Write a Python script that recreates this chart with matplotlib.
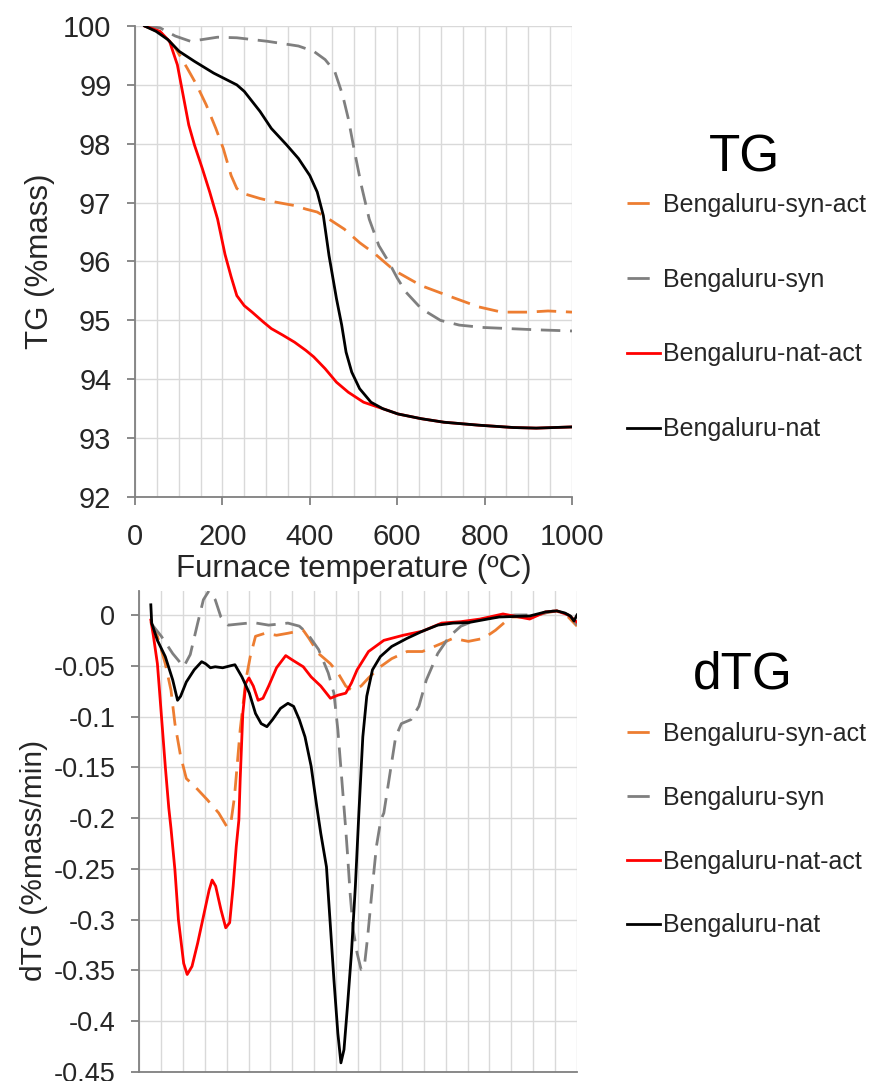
import matplotlib
matplotlib.use("Agg")
import matplotlib.pyplot as plt
from matplotlib.lines import Line2D
from matplotlib.ticker import MultipleLocator

plt.rcParams['font.family'] = ['Liberation Sans', 'DejaVu Sans']

# ---------------- data (TG, % mass) ----------------
nat_T = [22, 48, 75, 101, 136, 180, 233, 250, 286, 312, 347, 374, 400, 417, 431, 444, 461, 473, 483,
         496, 514, 540, 567, 602, 655, 707, 786, 866, 918, 1000]
nat_TG = [100, 99.91, 99.77, 99.57, 99.40, 99.20, 99.0, 98.89, 98.55, 98.26, 97.98, 97.75, 97.46, 97.18,
          96.78, 96.10, 95.37, 94.92, 94.46, 94.12, 93.84, 93.61, 93.50, 93.41, 93.33, 93.27, 93.22,
          93.18, 93.17, 93.19]

natact_T = [22, 57, 79, 97, 110, 123, 136, 154, 171, 189, 206, 220, 233, 250, 268, 294, 312, 338, 365,
            391, 409, 435, 461, 488, 523, 567, 602, 655, 707, 786, 866, 918, 1000]
natact_TG = [100, 99.91, 99.74, 99.34, 98.83, 98.32, 97.98, 97.58, 97.18, 96.72, 96.12, 95.74, 95.42,
             95.25, 95.14, 94.97, 94.86, 94.75, 94.63, 94.49, 94.38, 94.18, 93.95, 93.78, 93.61, 93.50,
             93.41, 93.33, 93.27, 93.22, 93.18, 93.17, 93.19]

synact_T = [22, 66, 92, 119, 141, 163, 185, 202, 220, 233, 250, 286, 321, 365, 391, 417, 444, 479, 514,
            549, 593, 655, 716, 786, 839, 901, 945, 1000]
synact_TG = [100, 99.86, 99.63, 99.29, 99.0, 98.66, 98.26, 97.92, 97.46, 97.24, 97.15, 97.07, 97.01,
             96.95, 96.89, 96.84, 96.72, 96.55, 96.32, 96.13, 95.85, 95.59, 95.42, 95.23, 95.14, 95.14,
             95.16, 95.14]

syn_T = [22, 57, 92, 127, 154, 189, 233, 303, 374, 409, 435, 457, 475, 488, 501, 518, 536, 558, 580,
         600, 620, 655, 699, 742, 795, 857, 918, 1000]
syn_TG = [100, 99.97, 99.83, 99.74, 99.77, 99.81, 99.80, 99.74, 99.66, 99.57, 99.43, 99.23, 98.83,
          98.43, 97.92, 97.29, 96.72, 96.27, 96.0, 95.72, 95.48, 95.20, 95.0, 94.92, 94.88, 94.86,
          94.84, 94.82]

# ---------------- data (dTG, % mass/min) ----------------
nat_dT = [27, 29, 42, 60, 77, 88, 95, 108, 126, 143, 152, 163, 174, 191, 209, 219, 235, 252, 266, 279,
          292, 305, 323, 340, 353, 366, 379, 393, 406, 415, 428, 436, 445, 454, 461, 468, 476, 485, 494,
          502, 511, 520, 533, 551, 577, 612, 647, 682, 717, 752, 796, 822, 892, 928, 954, 972, 985, 993,
          1000]
nat_dTG = [0.010, -0.008, -0.025, -0.041, -0.064, -0.084, -0.080, -0.066, -0.054, -0.046, -0.048,
           -0.052, -0.051, -0.052, -0.050, -0.049, -0.061, -0.077, -0.097, -0.107, -0.110, -0.103,
           -0.092, -0.087, -0.090, -0.103, -0.120, -0.149, -0.189, -0.215, -0.248, -0.300, -0.359,
           -0.412, -0.441, -0.428, -0.385, -0.333, -0.267, -0.195, -0.120, -0.080, -0.054, -0.041,
           -0.031, -0.023, -0.016, -0.010, -0.008, -0.0075, -0.004, -0.002, -0.001, 0.003, 0.004,
           0.002, -0.001, -0.006, 0.0]

natact_dT = [27, 33, 42, 46, 60, 68, 73, 82, 90, 102, 110, 121, 134, 147, 160, 167, 175, 187, 198, 207,
             215, 222, 228, 231, 237, 244, 251, 261, 272, 283, 296, 314, 335, 349, 375, 393, 415, 437,
             454, 472, 485, 498, 524, 559, 603, 647, 691, 735, 779, 831, 892, 928, 954, 980, 1000]
natact_dTG = [-0.005, -0.021, -0.048, -0.070, -0.149, -0.190, -0.210, -0.251, -0.300, -0.343, -0.354,
              -0.346, -0.323, -0.297, -0.271, -0.261, -0.267, -0.290, -0.308, -0.303, -0.267, -0.228,
              -0.202, -0.162, -0.097, -0.067, -0.062, -0.070, -0.084, -0.082, -0.070, -0.052, -0.040,
              -0.044, -0.051, -0.061, -0.070, -0.082, -0.079, -0.077, -0.067, -0.054, -0.036, -0.025,
              -0.020, -0.016, -0.008, -0.0066, -0.004, 0.001, -0.004, 0.003, 0.004, 0.0, -0.007]

synact_dT = [27, 42, 60, 73, 82, 95, 108, 130, 156, 182, 200, 209, 218, 231, 244, 254, 266, 288, 314,
             340, 375, 388, 410, 437, 454, 472, 485, 507, 524, 551, 577, 612, 647, 691, 717, 752, 787,
             814, 849, 892, 928, 954, 980, 1000]
synact_dTG = [-0.007, -0.021, -0.048, -0.074, -0.107, -0.139, -0.161, -0.170, -0.182, -0.195, -0.208,
              -0.207, -0.179, -0.113, -0.064, -0.041, -0.021, -0.018, -0.020, -0.018, -0.015, -0.023,
              -0.038, -0.048, -0.057, -0.070, -0.074, -0.070, -0.062, -0.051, -0.043, -0.036, -0.036,
              -0.028, -0.023, -0.026, -0.023, -0.015, -0.002, -0.002, 0.002, 0.004, -0.002, -0.011]

syn_dT = [27, 51, 77, 102, 117, 134, 147, 160, 174, 187, 204, 226, 261, 296, 340, 366, 384, 410, 432,
          445, 454, 463, 472, 476, 482, 489, 498, 507, 514, 522, 533, 542, 552, 559, 573, 586, 599, 621,
          639, 656, 682, 709, 735, 770, 814, 858, 910, 945, 972, 989, 1000]
syn_dTG = [-0.008, -0.021, -0.038, -0.051, -0.039, -0.008, 0.015, 0.024, 0.015, -0.002, -0.010,
           -0.009, -0.0075, -0.010, -0.008, -0.011, -0.018, -0.034, -0.057, -0.077, -0.113, -0.162,
           -0.211, -0.235, -0.274, -0.310, -0.333, -0.349, -0.348, -0.317, -0.267, -0.228, -0.202,
           -0.195, -0.156, -0.120, -0.107, -0.103, -0.090, -0.064, -0.038, -0.021, -0.011, -0.005,
           -0.002, 0.0, 0.0, 0.004, 0.002, -0.003, -0.010]

labels = ['Bengaluru-syn-act', 'Bengaluru-syn', 'Bengaluru-nat-act', 'Bengaluru-nat']
colors = ['#ED7D31', '#7F7F7F', '#FF0000', '#000000']
dashed = [True, True, False, False]

x_ticks = [0, 200, 400, 600, 800, 1000]
tg_ticks = [92, 93, 94, 95, 96, 97, 98, 99, 100]
dtg_ticks = [0, -0.05, -0.1, -0.15, -0.2, -0.25, -0.3, -0.35, -0.4, -0.45]
dtg_ticklabels = ['0', '-0.05', '-0.1', '-0.15', '-0.2', '-0.25', '-0.3', '-0.35', '-0.4', '-0.45']

W, H = 869, 1081
fig = plt.figure(figsize=(W / 100, H / 100), dpi=100)

LW = 2.0
DASH = (7.0, 3.5)
GRID = '#D9D9D9'
SPINE = '#808080'
TXT = '#262626'
FS = 21
LFS = 22.5


def style_axes(ax, fs):
    for s in ['top', 'right']:
        ax.spines[s].set_visible(False)
    for s in ['left', 'bottom']:
        ax.spines[s].set_color(SPINE)
        ax.spines[s].set_linewidth(1.3)
    ax.xaxis.set_minor_locator(MultipleLocator(50))
    ax.grid(True, which='major', axis='y', color=GRID, lw=1.0)
    ax.grid(True, which='minor', axis='x', color=GRID, lw=1.0)
    ax.grid(True, which='major', axis='x', color=GRID, lw=1.0)
    ax.set_axisbelow(True)
    ax.tick_params(which='minor', length=0)
    ax.tick_params(which='major', direction='out', length=6, width=1.3, color=SPINE,
                   labelsize=fs, labelcolor=TXT)


def draw(ax, xs, ys, i):
    ln, = ax.plot(xs, ys, color=colors[i], lw=LW, solid_joinstyle='round')
    if dashed[i]:
        ln.set_dashes(DASH)
    return ln


def add_legend(ax, top_y, spacing):
    handles = []
    for i in range(4):
        h = Line2D([0], [0], color=colors[i], lw=LW)
        if dashed[i]:
            h.set_dashes((8, 6))
        handles.append(h)
    ax.legend(handles, labels, loc='upper left', bbox_to_anchor=(627 / W, 1 - top_y / H),
              bbox_transform=fig.transFigure, frameon=False, fontsize=18, handlelength=1.33,
              handletextpad=0.1, labelspacing=spacing, borderpad=0, borderaxespad=0,
              labelcolor=TXT)


# ---------------- TG panel ----------------
ax1 = fig.add_axes([135 / W, 1 - 497 / H, 437 / W, 471 / H])
style_axes(ax1, FS)
draw(ax1, synact_T, synact_TG, 0)
draw(ax1, syn_T, syn_TG, 1)
draw(ax1, natact_T, natact_TG, 2)
draw(ax1, nat_T, nat_TG, 3)
ax1.set_xlim(0, 1000)
ax1.set_ylim(92, 100)
ax1.set_xticks(x_ticks)
ax1.set_yticks(tg_ticks)
ax1.tick_params(axis='y', pad=11)
ax1.tick_params(axis='x', pad=13)
ax1.set_xlabel('Furnace temperature (ºC)', fontsize=LFS, color=TXT, labelpad=2)
ax1.set_ylabel('TG (%mass)', fontsize=LFS, color=TXT)
ax1.yaxis.set_label_coords(-0.183, 0.5)
fig.text(745 / W, 1 - 158 / H, 'TG', fontsize=37, color='#000000', ha='center', va='center')
add_legend(ax1, 193, 2.03)

# ---------------- dTG panel ----------------
ax2 = fig.add_axes([139 / W, 1 - 1072 / H, 438 / W, 481 / H])
style_axes(ax2, 19.5)
draw(ax2, synact_dT, synact_dTG, 0)
draw(ax2, syn_dT, syn_dTG, 1)
draw(ax2, natact_dT, natact_dTG, 2)
draw(ax2, nat_dT, nat_dTG, 3)
ax2.set_xlim(0, 1000)
ax2.set_ylim(-0.45, 0.0236)
ax2.set_xticks(x_ticks)
ax2.set_yticks(dtg_ticks)
ax2.set_yticklabels(dtg_ticklabels)
ax2.tick_params(axis='x', length=0, labelbottom=False)
ax2.tick_params(axis='y', pad=11)
ax2.set_ylabel('dTG (%mass/min)', fontsize=21.5, color=TXT)
ax2.yaxis.set_label_coords(-0.207, 0.44)
fig.text(743 / W, 1 - 675 / H, 'dTG', fontsize=37, color='#000000', ha='center', va='center')
add_legend(ax2, 722, 1.59)

fig.savefig('out.png', dpi=100)
